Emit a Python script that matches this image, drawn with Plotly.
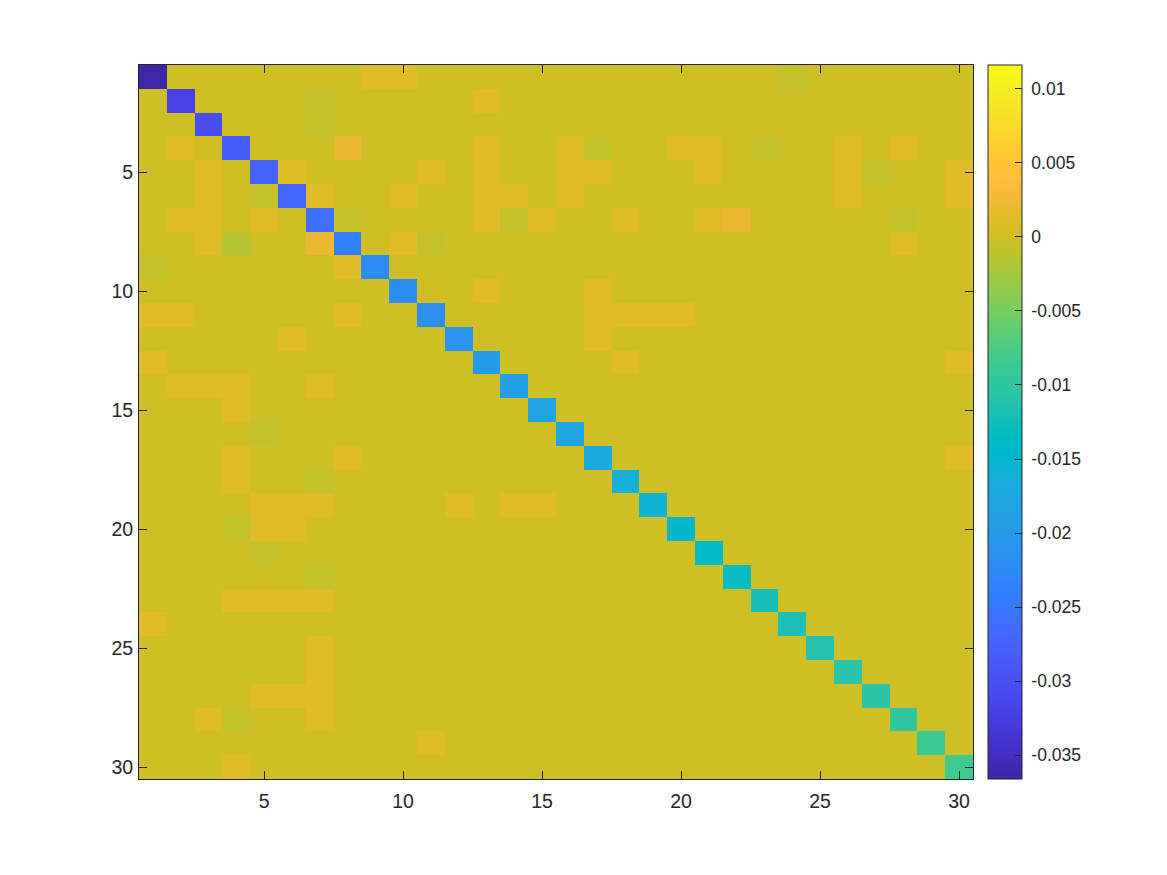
import plotly.graph_objects as go

n = 30
diag_values = [-0.0366, -0.0318, -0.0302, -0.0283, -0.0277, -0.0272, -0.0258, -0.0236,
               -0.0222, -0.0218, -0.0215, -0.0210, -0.0197, -0.0190, -0.0184, -0.0180,
               -0.0172, -0.0164, -0.0155, -0.0146, -0.0141, -0.0131, -0.0122, -0.0119,
               -0.0114, -0.0109, -0.0104, -0.0097, -0.0090, -0.0084]

pos_cells = [(1, 9), (1, 10), (2, 13), (4, 2), (4, 13), (4, 16), (4, 20), (4, 21), (4, 26), (4, 28),
             (5, 3), (5, 6), (5, 11), (5, 13), (5, 16), (5, 17), (5, 21), (5, 26), (5, 30),
             (6, 3), (6, 7), (6, 10), (6, 13), (6, 14), (6, 16), (6, 26), (6, 30),
             (7, 2), (7, 3), (7, 5), (7, 13), (7, 15), (7, 18), (7, 21),
             (8, 3), (8, 10), (8, 28), (9, 8), (10, 13), (10, 17),
             (11, 1), (11, 2), (11, 8), (11, 17), (11, 18), (11, 19), (11, 20),
             (12, 6), (12, 17), (13, 1), (13, 18), (13, 30),
             (14, 2), (14, 3), (14, 4), (14, 7), (15, 4), (17, 4), (17, 8), (17, 30), (18, 4),
             (19, 5), (19, 6), (19, 7), (19, 12), (19, 14), (19, 15), (20, 5), (20, 6),
             (23, 4), (23, 5), (23, 6), (23, 7), (24, 1), (25, 7), (26, 7),
             (27, 5), (27, 6), (27, 7), (28, 3), (28, 7), (29, 11), (30, 4)]
pos_value = 0.0012
strong_pos_cells = [(4, 8), (8, 7), (7, 22)]
strong_pos_value = 0.0021
neg_cells = [(1, 24), (2, 7), (3, 7), (4, 17), (4, 23), (5, 27), (6, 5), (7, 8), (7, 14), (7, 28),
             (8, 11), (9, 1), (16, 5), (18, 7), (20, 4), (21, 5), (22, 7), (28, 4)]
neg_value = -0.0008
strong_neg_cells = [(8, 4)]
strong_neg_value = -0.0016

cmin, cmax = -0.0366, 0.0116
cbar_ticks = [0.01, 0.005, 0, -0.005, -0.01, -0.015, -0.02, -0.025, -0.03, -0.035]
cbar_text = ["0.01", "0.005", "0", "-0.005", "-0.01", "-0.015", "-0.02", "-0.025", "-0.03", "-0.035"]
axis_ticks = [5, 10, 15, 20, 25, 30]

parula = [
    (0.2422, 0.1504, 0.6603), (0.2504, 0.1650, 0.7076), (0.2578, 0.1818, 0.7511), (0.2647, 0.1978, 0.7952),
    (0.2706, 0.2147, 0.8364), (0.2751, 0.2342, 0.8710), (0.2783, 0.2559, 0.8991), (0.2803, 0.2782, 0.9221),
    (0.2813, 0.3006, 0.9414), (0.2810, 0.3228, 0.9579), (0.2795, 0.3447, 0.9717), (0.2760, 0.3667, 0.9829),
    (0.2699, 0.3892, 0.9906), (0.2602, 0.4123, 0.9952), (0.2440, 0.4358, 0.9988), (0.2206, 0.4603, 0.9973),
    (0.1963, 0.4847, 0.9892), (0.1834, 0.5074, 0.9798), (0.1786, 0.5289, 0.9682), (0.1764, 0.5499, 0.9520),
    (0.1687, 0.5703, 0.9359), (0.1540, 0.5902, 0.9218), (0.1460, 0.6091, 0.9079), (0.1380, 0.6276, 0.8973),
    (0.1248, 0.6459, 0.8883), (0.1113, 0.6635, 0.8763), (0.0952, 0.6798, 0.8598), (0.0689, 0.6948, 0.8394),
    (0.0297, 0.7082, 0.8163), (0.0036, 0.7203, 0.7917), (0.0067, 0.7312, 0.7660), (0.0433, 0.7411, 0.7394),
    (0.0964, 0.7500, 0.7120), (0.1408, 0.7584, 0.6842), (0.1717, 0.7670, 0.6554), (0.1938, 0.7758, 0.6251),
    (0.2161, 0.7843, 0.5923), (0.2470, 0.7918, 0.5567), (0.2906, 0.7973, 0.5188), (0.3406, 0.8008, 0.4789),
    (0.3909, 0.8029, 0.4354), (0.4456, 0.8024, 0.3909), (0.5044, 0.7993, 0.3480), (0.5616, 0.7942, 0.3045),
    (0.6174, 0.7876, 0.2612), (0.6720, 0.7793, 0.2227), (0.7242, 0.7698, 0.1910), (0.7738, 0.7598, 0.1646),
    (0.8203, 0.7498, 0.1535), (0.8634, 0.7406, 0.1596), (0.9035, 0.7330, 0.1774), (0.9393, 0.7288, 0.2100),
    (0.9728, 0.7298, 0.2394), (0.9956, 0.7434, 0.2371), (0.9970, 0.7659, 0.2199), (0.9952, 0.7893, 0.2028),
    (0.9892, 0.8136, 0.1885), (0.9786, 0.8386, 0.1766), (0.9676, 0.8639, 0.1643), (0.9610, 0.8890, 0.1537),
    (0.9597, 0.9135, 0.1423), (0.9628, 0.9373, 0.1265), (0.9691, 0.9606, 0.1064), (0.9769, 0.9839, 0.0805)]
colorscale = [[i / (len(parula) - 1), "rgb(%d,%d,%d)" % tuple(round(c * 255) for c in p)]
              for i, p in enumerate(parula)]

# build matrix
Z = [[0.0] * n for _ in range(n)]
for i, v in enumerate(diag_values):
    Z[i][i] = v
for (r, c) in pos_cells:
    Z[r - 1][c - 1] = pos_value
for (r, c) in strong_pos_cells:
    Z[r - 1][c - 1] = strong_pos_value
for (r, c) in neg_cells:
    Z[r - 1][c - 1] = neg_value
for (r, c) in strong_neg_cells:
    Z[r - 1][c - 1] = strong_neg_value

idx = list(range(1, n + 1))
axcol = "rgb(38,38,38)"
font = "Liberation Sans, Arial, Helvetica, sans-serif"

fig = go.Figure(go.Heatmap(
    z=Z, x=idx, y=idx, colorscale=colorscale, zmin=cmin, zmax=cmax,
    hoverongaps=False,
    colorbar=dict(
        x=(988 - 139) / 834, xanchor="left", xref="paper",
        y=0, yanchor="bottom", len=1, lenmode="fraction",
        thickness=34, thicknessmode="pixels",
        outlinecolor=axcol, outlinewidth=1,
        tickvals=cbar_ticks, ticktext=[" " + t for t in cbar_text],
        ticks="inside", ticklen=7, tickcolor=axcol,
        tickfont=dict(family=font, size=17.5, color=axcol),
        xpad=0, ypad=0,
    ),
))

fig.update_layout(
    width=1167, height=875,
    margin=dict(l=131, r=202, t=57, b=104),
    paper_bgcolor="white", plot_bgcolor="white",
    font=dict(family=font, color=axcol),
    xaxis=dict(range=[0.5, 30.5], tickvals=axis_ticks, ticks="inside", ticklen=8,
               tickcolor=axcol, showline=True, linecolor=axcol, linewidth=1, mirror="ticks",
               showgrid=False, zeroline=False, ticklabelstandoff=5,
               tickfont=dict(size=19.5, family=font, color=axcol)),
    yaxis=dict(range=[30.5, 0.5], tickvals=axis_ticks, ticks="inside", ticklen=8,
               tickcolor=axcol, showline=True, linecolor=axcol, linewidth=1, mirror="ticks",
               showgrid=False, zeroline=False, ticklabelstandoff=1,
               tickfont=dict(size=19.5, family=font, color=axcol)),
)

fig.write_html("out.html")
